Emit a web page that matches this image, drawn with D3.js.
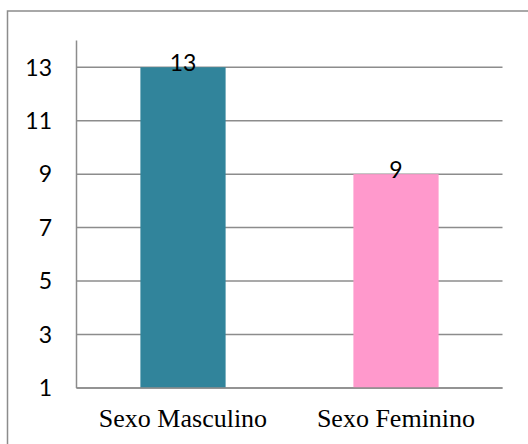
<!DOCTYPE html>
<html>
<head>
<meta charset="utf-8">
<script src="https://cdn.jsdelivr.net/npm/d3@7"></script>
<style>
  body { margin: 0; background: #fff; }
</style>
</head>
<body>
<div id="chart"></div>
<script>
// data
var categories = ["Sexo Masculino", "Sexo Feminino"];
var values = [13, 9];
var barColors = ["#31849B", "#FF99CC"];
var yTicks = [1, 3, 5, 7, 9, 11, 13];

var W = 528, H = 444;
var margin = {top: 40.5, right: 25.5, bottom: 56, left: 76.5};
var width = W - margin.left - margin.right;
var height = H - margin.top - margin.bottom;

var svg = d3.select("#chart").append("svg")
    .attr("width", W).attr("height", H);

// outer frame (runs off the right and bottom edge)
svg.append("rect")
    .attr("x", 7.5).attr("y", 11)
    .attr("width", W + 20).attr("height", H + 20)
    .attr("fill", "none").attr("stroke", "#8c8c8c").attr("stroke-width", 1.5);

var g = svg.append("g").attr("transform", "translate(" + margin.left + "," + margin.top + ")");

var x = d3.scaleBand().domain(categories).range([0, width]).paddingInner(0.6).paddingOuter(0.3);
var y = d3.scaleLinear().domain([1, 14]).range([height, 0]);

// gridlines
g.selectAll(".grid").data(yTicks).join("line")
    .attr("class", "grid")
    .attr("x1", 0).attr("x2", width)
    .attr("y1", d => y(d)).attr("y2", d => y(d))
    .attr("stroke", "#8c8c8c").attr("stroke-width", 1.5);

// bars
g.selectAll(".bar").data(values).join("rect")
    .attr("class", "bar")
    .attr("x", (d, i) => x(categories[i]))
    .attr("y", d => y(d))
    .attr("width", x.bandwidth())
    .attr("height", d => y(1) - y(d))
    .attr("fill", (d, i) => barColors[i]);

// bottom axis line again over bars
g.append("line").attr("x1", 0).attr("x2", width).attr("y1", y(1)).attr("y2", y(1))
    .attr("stroke", "#8c8c8c").attr("stroke-width", 1.5);

// y axis line
g.append("line").attr("x1", 0).attr("x2", 0).attr("y1", 0).attr("y2", height)
    .attr("stroke", "#8c8c8c").attr("stroke-width", 1.5);

// y tick labels
g.selectAll(".ytick").data(yTicks).join("text")
    .attr("class", "ytick")
    .attr("x", -24.5).attr("y", d => y(d))
    .attr("dy", "0.36em")
    .attr("text-anchor", "end")
    .attr("font-family", "Lato, 'Liberation Sans', sans-serif")
    .attr("font-size", 23).attr("fill", "#000")
    .text(d => d);

// value labels
g.selectAll(".val").data(values).join("text")
    .attr("class", "val")
    .attr("x", (d, i) => x(categories[i]) + x.bandwidth() / 2)
    .attr("y", d => y(d) + 4)
    .attr("text-anchor", "middle")
    .attr("font-family", "Lato, 'Liberation Sans', sans-serif")
    .attr("font-size", 23).attr("fill", "#000")
    .text(d => d);

// category labels
g.selectAll(".cat").data(categories).join("text")
    .attr("class", "cat")
    .attr("x", d => x(d) + x.bandwidth() / 2)
    .attr("y", height + 39)
    .attr("text-anchor", "middle")
    .attr("font-family", "'Liberation Serif', 'Times New Roman', serif")
    .attr("font-size", 26).attr("fill", "#000")
    .text(d => d);
</script>
</body>
</html>
